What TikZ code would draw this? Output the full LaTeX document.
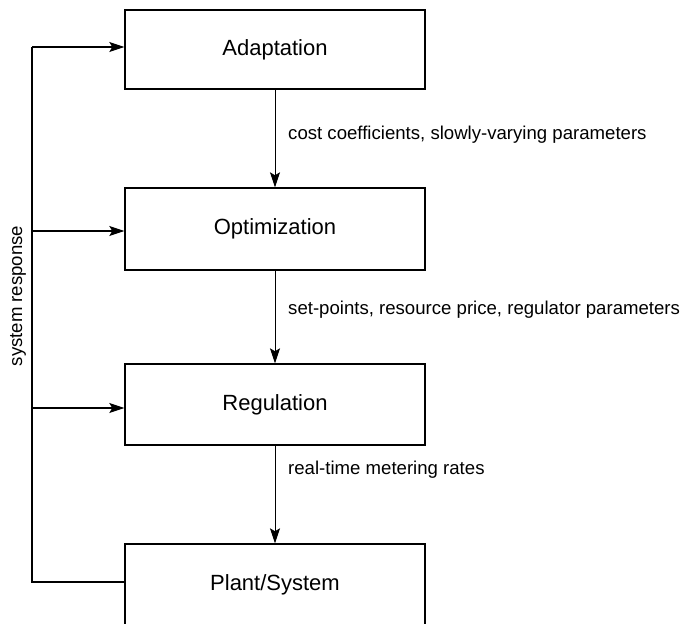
\documentclass[tikz,border=0pt]{standalone}
\usepackage{fontspec}
\setmainfont{Liberation Sans}
\usetikzlibrary{arrows.meta}
\begin{document}
\begin{tikzpicture}[x=1pt,y=-1pt,
  blockbox/.style={draw,line width=1.4pt,minimum width=300pt,inner sep=0pt,font=\fontsize{22}{26}\selectfont},
  flowarrow/.style={line width=0.8pt,-{Stealth[length=15pt,width=10pt,inset=3pt]}},
  fbline/.style={line width=1.3pt},
  fbarrow/.style={line width=1.1pt,-{Stealth[length=15pt,width=10pt,inset=3pt]}},
  lbl/.style={anchor=west,inner sep=0pt,font=\fontsize{18.6}{22}\selectfont}]
\useasboundingbox (0,0) rectangle (686,624);
\clip (0,0) rectangle (686,624);
\node[blockbox,minimum height=79pt] (adapt) at (275,49.5) {Adaptation};
\node[blockbox,minimum height=82pt] (opt) at (275,229) {Optimization};
\node[blockbox,minimum height=81pt] (reg) at (275,404.5) {Regulation};
\node[blockbox,minimum height=82pt] (plant) at (275,585) {Plant/System};
\draw[flowarrow] (adapt.south) -- (opt.north);
\draw[flowarrow] (opt.south) -- (reg.north);
\draw[flowarrow] (reg.south) -- (plant.north);
\node[lbl] (l1) at (288,135) {cost coefficients, slowly-varying parameters};
\node[lbl] (l2) at (288,310) {set-points, resource price, regulator parameters};
\node[lbl] (l3) at (288,470) {real-time metering rates};
\coordinate (fbtop) at (32,47);
\coordinate (fbbot) at (32,582);
\draw[fbline] (plant.west |- fbbot) -- (fbbot) -- (fbtop);
\draw[fbarrow] (fbtop) -- (adapt.west |- fbtop);
\draw[fbarrow] (fbtop |- 0,231) -- (opt.west |- 0,231);
\draw[fbarrow] (fbtop |- 0,408) -- (reg.west |- 0,408);
\node[rotate=90,inner sep=0pt,font=\fontsize{18.6}{22}\selectfont] (sr) at (18,296) {system response};
\end{tikzpicture}
\end{document}
